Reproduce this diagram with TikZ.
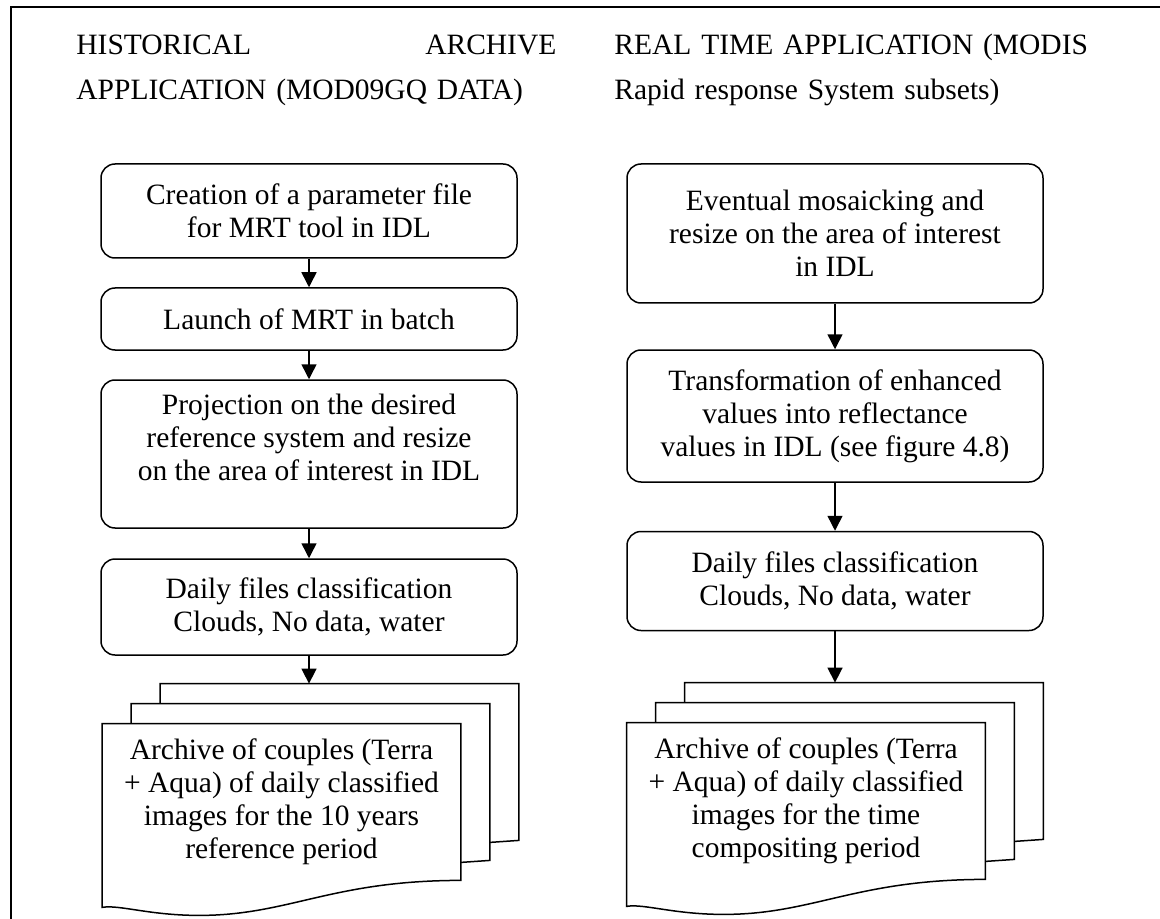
\documentclass[tikz,border=0pt]{standalone}
\usepackage{fontspec}
\setmainfont{Liberation Serif}
\usetikzlibrary{arrows.meta,calc}

\tikzset{
  stepbox/.style={draw, rounded corners=7pt, line width=0.75pt, align=center,
    inner sep=0pt, minimum width=208pt},
  docbox/.style={inner sep=0pt, align=center, minimum width=179pt, minimum height=78pt},
  page/.style={draw, line width=0.75pt},
  arr/.style={-{Triangle[length=7.5pt,width=7.5pt]}, line width=0.75pt},
  heading/.style={anchor=base west, inner sep=0pt, align=left,
    font=\fontsize{14.75pt}{22.5pt}\selectfont}
}

% front page, two pages behind it, and the point where an arrow lands
\newcommand{\pagestack}[1]{%
  \draw[page] (#1.north west) -- (#1.north east) -- (#1.south east)
    .. controls +(-130,0) and +(90,0) .. ($(#1.south west)+(97,35)$)
    .. controls +(-50,0) and +(17,-3) .. ($(#1.south west)+(0,27)$) -- cycle;
  \draw[page] ($(#1.north west)+(29,0)$) -- ++(0,-20) -- ($(#1.north east)+(29,-20)$)
    -- ($(#1.south east)+(29,-20)$) -- ($(#1.south east)+(0,-18)$);
  \draw[page] ($(#1.north west)+(58,-20)$) -- ++(0,-20) -- ($(#1.north east)+(58,-40)$)
    -- ($(#1.south east)+(58,-40)$) -- ($(#1.south east)+(29,-38)$);
  \coordinate (#1top) at ($(#1.north)+(0,-40)$);
}

\begin{document}
\begin{tikzpicture}[x=0.5pt, y=-0.5pt, font=\fontsize{14.75pt}{16.5pt}\selectfont]
  \useasboundingbox (0,0) rectangle (1160,919);
  \draw[line width=1pt] (11,919) -- (11,7) -- (1160,7);

  % headings
  \node[heading, text width=240pt] (hhead) at (76,55)
    {HISTORICAL\hfill ARCHIVE\\APPLICATION (MOD09GQ DATA)};
  \node[heading, text width=260pt] (rhead) at (614,55)
    {REAL TIME APPLICATION (MODIS\\Rapid response System subsets)};

  % historical archive
  \node[stepbox, minimum height=47pt] (hparam) at (309,211)
    {Creation of a parameter file\\for MRT tool in IDL};
  \node[stepbox, minimum height=31pt] (hlaunch) at (309,319)
    {Launch of MRT in batch};
  \node[stepbox, minimum height=74pt] (hproj) at (309,454)
    {Projection on the desired\\reference system and resize\\on the area of interest in IDL\\\mbox{}};
  \node[stepbox, minimum height=48pt] (hdaily) at (309,607)
    {Daily files classification\\Clouds, No data, water};
  \node[docbox] (harch) at (281.5,802)
    {Archive of couples (Terra\\+ Aqua) of daily classified\\images for the 10 years\\reference period};
  \pagestack{harch}

  % real time
  \node[stepbox, minimum height=69.5pt] (rmosaic) at (835,233.5)
    {Eventual mosaicking and\\resize on the area of interest\\in IDL};
  \node[stepbox, minimum height=66pt] (rtrans) at (835,416)
    {Transformation of enhanced\\values into reflectance\\values in IDL (see figure 4.8)};
  \node[stepbox, minimum height=49.5pt] (rdaily) at (835,581)
    {Daily files classification\\Clouds, No data, water};
  \node[docbox] (rarch) at (806,801)
    {Archive of couples (Terra\\+ Aqua) of daily classified\\images for the time\\compositing period};
  \pagestack{rarch}

  \draw[arr] (hparam) -- (hlaunch);
  \draw[arr] (hlaunch) -- (hproj);
  \draw[arr] (hproj) -- (hdaily);
  \draw[arr] (hdaily) -- (hdaily |- harchtop);
  \draw[arr] (rmosaic) -- (rtrans);
  \draw[arr] (rtrans) -- (rdaily);
  \draw[arr] (rdaily) -- (rdaily |- rarchtop);
\end{tikzpicture}
\end{document}
